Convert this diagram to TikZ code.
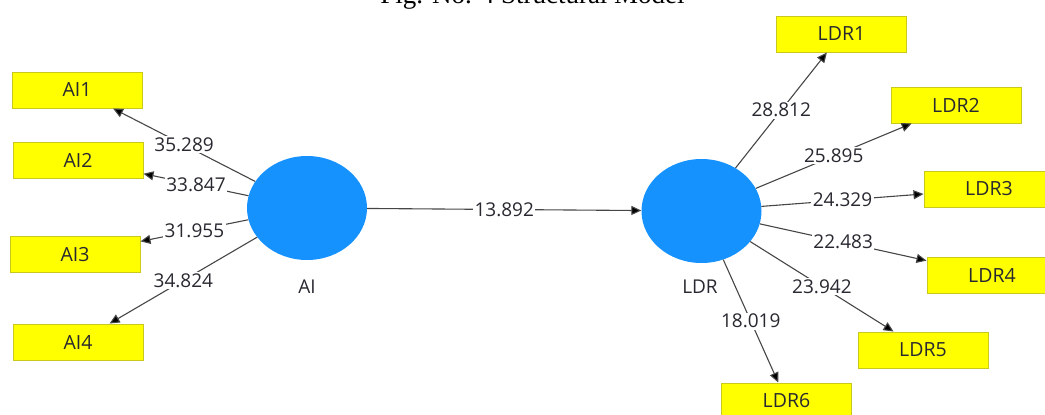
\documentclass[tikz,border=0pt]{standalone}
\usepackage{fontspec}
\setmainfont{Open Sans}
\newfontfamily\captionserif{Liberation Serif}
\usetikzlibrary{shapes.geometric,arrows.meta}

\definecolor{latentblue}{RGB}{22,146,255}
\definecolor{itemyellow}{RGB}{255,255,0}
\definecolor{itemborder}{RGB}{200,200,30}
\definecolor{txt}{RGB}{40,40,48}
\definecolor{edge}{RGB}{70,70,70}

\tikzset{
  latent/.style={ellipse, fill=latentblue, draw=none, minimum width=120pt,
    minimum height=104pt, inner sep=0pt},
  item/.style={rectangle, fill=itemyellow, draw=itemborder, line width=1pt,
    minimum width=130pt, minimum height=36pt, inner sep=0pt,
    font=\fontsize{19.5}{22}\selectfont, text=txt},
  latlabel/.style={font=\fontsize{19}{22}\selectfont, text=txt, inner sep=0pt},
  wt/.style={fill=white, inner sep=1.5pt, font=\fontsize{19}{22}\selectfont,
    text=txt, pos=0.5},
  path/.style={draw=edge, line width=1.1pt,
    -{Triangle[length=10pt,width=9pt,fill=black]}, shorten >=0pt},
}

\begin{document}
\begin{tikzpicture}[x=1pt, y=-1pt]
  \useasboundingbox (0,0) rectangle (1045,415);
  \clip (0,0) rectangle (1045,415);

  % caption running off the top edge
  \node[anchor=base, inner sep=0pt, font=\captionserif\fontsize{27}{30}\selectfont]
    (caption) at (532.5,3.5) {Fig. No. 4 Structural Model};

  % latent variables
  \node[latent] (ai)  at (307,208) {};
  \node[latent] (ldr) at (701.5,211) {};
  \node[latlabel] (ailab)  at (307,287) {AI};
  \node[latlabel] (ldrlab) at (700,287) {LDR};

  % indicators of AI
  \node[item] (ai1) at (77,90)    {AI1};
  \node[item] (ai2) at (78,160)   {AI2};
  \node[item] (ai3) at (75,254.5) {AI3};
  \node[item] (ai4) at (78,342)   {AI4};

  % indicators of LDR
  \node[item] (ldr1) at (841.5,34) {LDR1};
  \node[item] (ldr2) at (956,105)  {LDR2};
  \node[item] (ldr3) at (989,189)  {LDR3};
  \node[item] (ldr4) at (992,275)  {LDR4};
  \node[item] (ldr5) at (923,350)  {LDR5};
  \node[item] (ldr6) at (786.5,401) {LDR6};

  % structural path
  \draw[path] (ai) -- node[wt] {13.892} (ldr);

  % outer loadings
  \draw[path] (ai) -- node[wt] {35.289} (ai1);
  \draw[path] (ai) -- node[wt] {33.847} (ai2);
  \draw[path] (ai) -- node[wt] {31.955} (ai3);
  \draw[path] (ai) -- node[wt] {34.824} (ai4);

  \draw[path] (ldr) -- node[wt] {28.812} (ldr1);
  \draw[path] (ldr) -- node[wt] {25.895} (ldr2);
  \draw[path] (ldr) -- node[wt] {24.329} (ldr3);
  \draw[path] (ldr) -- node[wt] {22.483} (ldr4);
  \draw[path] (ldr) -- node[wt] {23.942} (ldr5);
  \draw[path] (ldr) -- node[wt] {18.019} (ldr6);
\end{tikzpicture}
\end{document}
